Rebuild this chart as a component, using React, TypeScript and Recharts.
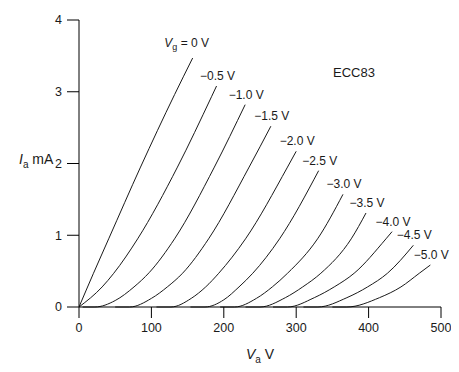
import { LineChart, Line, XAxis, YAxis } from 'recharts';

const vaTicks = [0, 100, 200, 300, 400, 500];
const iaTicks = [0, 1, 2, 3, 4];

// anode characteristics, [Va (V), Ia (mA)]
const vg0 = [[0, 0], [20, 0.47], [41, 0.95], [85, 1.95], [132, 2.96], [157, 3.47]];
const vg05 = [[0, 0], [32, 0.28], [48, 0.47], [81, 0.95], [136, 1.95], [183, 2.93], [190, 3.08]];
const vg10 = [[5, 0], [22, 0], [50, 0.09], [76, 0.28], [97, 0.48], [132, 0.95], [187, 1.95], [229.5, 2.82]];
const vg15 = [[50, 0], [70, 0], [100, 0.12], [122, 0.28], [143, 0.47], [179, 0.95], [235, 1.95], [265, 2.52]];
const vg20 = [[107, 0], [127, 0], [155, 0.12], [175, 0.28], [193, 0.47], [230, 0.95], [288, 1.95], [300, 2.17]];
const vg25 = [[154, 0], [174, 0], [200, 0.1], [221, 0.28], [240, 0.47], [277, 0.95], [331, 1.9]];
const vg30 = [[195, 0], [215, 0], [245, 0.12], [267, 0.28], [288, 0.47], [329.5, 0.95], [364.6, 1.57]];
const vg35 = [[230, 0], [250, 0], [285, 0.13], [309, 0.28], [334, 0.47], [376, 0.95], [396.4, 1.31]];
const vg40 = [[268, 0], [288, 0], [325, 0.13], [352.5, 0.28], [380, 0.47], [424, 0.95], [432.4, 1.05]];
const vg45 = [[310, 0], [330, 0], [370, 0.13], [398.6, 0.28], [426, 0.47], [461.8, 0.86]];
const vg50 = [[350, 0], [370, 0], [415, 0.13], [444.7, 0.28], [470, 0.47], [485.3, 0.585]];

const gridVolts = ['0', '−0.5', '−1.0', '−1.5', '−2.0', '−2.5', '−3.0', '−3.5', '−4.0', '−4.5', '−5.0'];
const curves = [vg0, vg05, vg10, vg15, vg20, vg25, vg30, vg35, vg40, vg45, vg50];

const font = '"Liberation Sans", Arial, Helvetica, sans-serif';
const ink = '#1a1a1a';

function endLabel(count: number, text: string, first: boolean) {
  return (p: any) => {
    if (p.index !== count - 1) return <g key={p.index} />;
    const x = p.x ?? p.viewBox?.x;
    const y = p.y ?? p.viewBox?.y;
    if (first) {
      return (
        <text key="l" x={x - 6} y={y - 11} textAnchor="middle" fontSize={12} fill={ink} fontFamily={font}>
          <tspan fontStyle="italic">V</tspan>
          <tspan fontSize={9} dy={3}>g</tspan>
          <tspan dy={-3}> = 0 V</tspan>
        </text>
      );
    }
    return (
      <text key="l" x={x + 1} y={y - 6} textAnchor="middle" fontSize={12} fill={ink} fontFamily={font}>
        {text + ' V'}
      </text>
    );
  };
}

export default function App() {
  return (
    <div style={{ position: 'relative', width: 459, height: 372, margin: '-8px 0 0 -8px', fontFamily: font, color: ink }}>
      <LineChart width={459} height={372} margin={{ top: 20, right: 18, left: 39, bottom: 35 }}>
        <XAxis
          type="number"
          dataKey="va"
          domain={[0, 500]}
          ticks={vaTicks}
          allowDataOverflow
          tickSize={11}
          tickMargin={5}
          height={30}
          stroke="#000"
          tick={{ fill: ink, fontSize: 12.5, fontFamily: font }}
        />
        <YAxis
          type="number"
          domain={[0, 4]}
          ticks={iaTicks}
          width={40}
          tickSize={12}
          tickMargin={5}
          stroke="#000"
          tick={{ fill: ink, fontSize: 12.5, fontFamily: font }}
        />
        {curves.map((pts, i) => (
          <Line
            key={gridVolts[i]}
            data={pts.map(([va, ia]) => ({ va, ia }))}
            dataKey="ia"
            type="monotone"
            stroke={ink}
            strokeWidth={1}
            dot={false}
            activeDot={false}
            isAnimationActive={false}
            label={endLabel(pts.length, gridVolts[i], i === 0)}
          />
        ))}
      </LineChart>
      <div style={{ position: 'absolute', left: 333, top: 65, fontSize: 13 }}>ECC83</div>
      <div style={{ position: 'absolute', left: 19, top: 151, fontSize: 14, whiteSpace: 'nowrap' }}>
        <i>I</i>
        <sub style={{ fontSize: 10 }}>a</sub> mA
      </div>
      <div style={{ position: 'absolute', left: 246, top: 346, fontSize: 14, whiteSpace: 'nowrap' }}>
        <i>V</i>
        <sub style={{ fontSize: 10 }}>a</sub> V
      </div>
    </div>
  );
}
